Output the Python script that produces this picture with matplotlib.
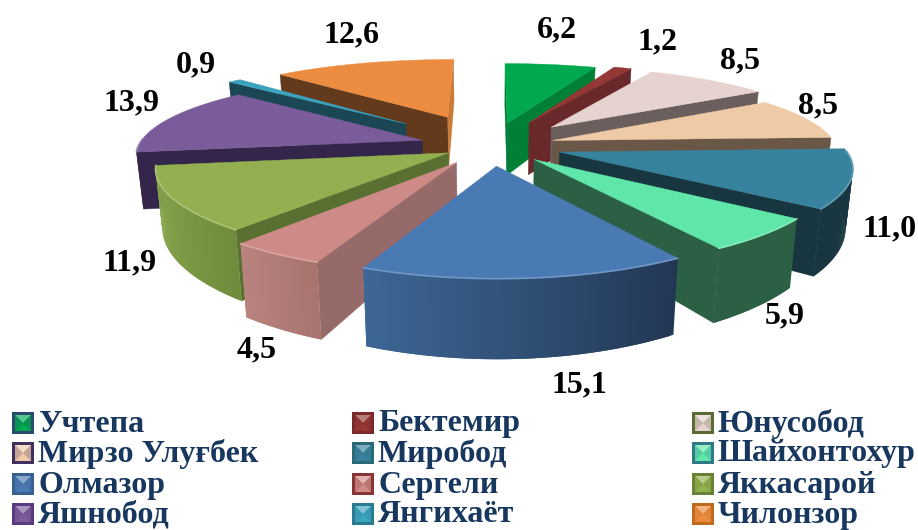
"""Exploded 3D pie of district shares, drawn by hand since matplotlib has no 3D pie."""

import matplotlib

matplotlib.use("Agg")
import matplotlib.pyplot as plt
import numpy as np
from matplotlib.colors import to_rgb

districts = ["Учтепа", "Бектемир", "Юнусобод", "Мирзо Улуғбек", "Миробод", "Шайхонтохур",
             "Олмазор", "Сергели", "Яккасарой", "Яшнобод", "Янгихаёт", "Чилонзор"]
shares = [6.2, 1.2, 8.5, 8.5, 11.0, 5.9, 15.1, 4.5, 11.9, 13.9, 0.9, 12.6]

explode = [0.31, 0.34, 0.33, 0.23, 0.25, 0.22, 0.24, 0.23, 0.17, 0.255, 0.43, 0.42]
top_colors = ["#00a94f", "#953735", "#e6d2cf", "#eecaa7", "#37829c", "#60e6a8",
              "#4a7ab3", "#cd8a87", "#92b050", "#7a5c9a", "#3ca3bf", "#ec8c41"]
cut_colors = ["#008037", "#69282a", "#6b5f5d", "#6a5748", "#17363f", "#2c6045",
              "#223754", "#966a68", "#5a6f32", "#33264a", "#1b4654", "#643a1c"]
wall_start = ["#008037", "#69282a", "#6b5f5d", "#6a5748", "#17363f", "#2c6045",
              "#223754", "#a87470", "#6f8c3c", "#33264a", "#1b4654", "#643a1c"]
wall_end = ["#008037", "#69282a", "#6b5f5d", "#6a5748", "#17363f", "#2c6045",
            "#3d6796", "#b98480", "#8dab50", "#33264a", "#1b4654", "#643a1c"]
key_edges = ["#2a4a6e", "#7a2a2a", "#5a6b35", "#3f3060", "#2a6a78", "#2f7a86",
             "#3a6090", "#8a3535", "#6a8035", "#5a3a80", "#2a7a90", "#c06a20"]

label_pos = [(557, 30), (657, 42), (740, 61), (818, 106), (890, 229), (785, 316),
             (579, 385), (257, 350), (130, 263), (131, 103), (196, 65), (352, 35)]

CX, CY = 491, 146
A, B, H = 284, 80, 56
KX, KY, KH = 0.16, 0.204, 0.246

SERIF = ["Liberation Serif", "DejaVu Serif"]


def project(x, y, z=0.0):
    wx = 1 + KX * y
    wy = 1 + KY * y
    wh = 1 + KH * y
    sx = CX + A * x / (wx + 0.02 * z)
    sy = CY - B * y / wy + H * z / wh
    return np.array([sx, sy]).T


def lighten(color, amount):
    rgb = np.array(to_rgb(color))
    return tuple(rgb + (1 - rgb) * amount)


def mix(c0, c1, t):
    return tuple(np.array(to_rgb(c0)) * (1 - t) + np.array(to_rgb(c1)) * t)


def draw_slice(ax, a0, a1, e, top, cut, w0, w1, zorder):
    mid = np.radians((a0 + a1) / 2)
    ox, oy = e * np.sin(mid), e * np.cos(mid)
    ang = np.radians(np.linspace(a0, a1, 80))
    rx, ry = ox + np.sin(ang), oy + np.cos(ang)

    apex = project(ox, oy)
    apex_low = project(ox, oy, 1.0)
    rim = project(rx, ry)
    rim_low = project(rx, ry, 1.0)

    # cut faces, only the ones turned towards the viewer
    if rim[0, 0] < apex[0]:
        quad = [apex, rim[0], rim_low[0], apex_low]
        ax.fill(*np.array(quad).T, color=cut, lw=0.3, zorder=zorder)
    if rim[-1, 0] > apex[0]:
        quad = [apex, rim[-1], rim_low[-1], apex_low]
        color = cut if a1 < 350 else "#c97a38"
        ax.fill(*np.array(quad).T, color=color, lw=0.3, zorder=zorder)

    # outer wall as overlapping strips so it can carry a gradient without seams
    front = np.where(np.cos(ang) < 0.02)[0]
    for i in front[:-1]:
        j = min(i + 2, front[-1])
        t = i / (len(ang) - 2)
        quad = [rim[i], rim[j], rim_low[j], rim_low[i]]
        ax.fill(*np.array(quad).T, color=mix(w0, w1, t), lw=0, zorder=zorder)

    outline = np.vstack([apex, rim])
    ax.fill(outline[:, 0], outline[:, 1], color=top, lw=0.3, zorder=zorder)
    if len(front):
        ax.plot(rim[front, 0], rim[front, 1], color=lighten(top, 0.22), lw=1.2,
                solid_capstyle="round", zorder=zorder)


def draw_key(ax, x, y, top, edge, size=22):
    # bevelled legend swatch
    x0, x1, y0, y1 = x, x + size, y - size / 2, y + size / 2
    ax.fill([x0, x1, x1, x0], [y0, y0, y1, y1], color=edge, lw=0, zorder=30)
    m = 3
    ix0, ix1, iy0, iy1 = x0 + m, x1 - m, y0 + m, y1 - m
    ax.fill([ix0, ix1, ix1, ix0], [iy0, iy0, iy1, iy1], color=top, lw=0, zorder=31)
    cx, cy = (ix0 + ix1) / 2, (iy0 + iy1) / 2
    ax.fill([ix0, ix1, cx], [iy0, iy0, cy], color=lighten(top, 0.35), lw=0, zorder=32)
    ax.fill([ix0, cx, ix0], [iy0, cy, iy1], color=mix(top, edge, 0.25), lw=0, zorder=32)
    ax.fill([ix1, cx, ix1], [iy0, cy, iy1], color=mix(top, edge, 0.25), lw=0, zorder=32)


def main():
    fig = plt.figure(figsize=(9.18, 5.30), dpi=100)
    ax = fig.add_axes([0, 0, 1, 1])
    ax.set_xlim(0, 918)
    ax.set_ylim(530, 0)
    ax.axis("off")

    edges = np.concatenate([[0], np.cumsum(shares)]) / sum(shares) * 360
    mids = (edges[:-1] + edges[1:]) / 2
    order = np.argsort(-np.cos(np.radians(mids)))
    for z, i in enumerate(order):
        draw_slice(ax, edges[i], edges[i + 1], explode[i], top_colors[i], cut_colors[i],
                   wall_start[i], wall_end[i], 2 + z)

    for value, (x, y) in zip(shares, label_pos):
        ax.text(x, y, f"{value:.1f}".replace(".", ","), ha="center", va="center",
                family=SERIF, fontsize=23, fontweight="bold", color="black", zorder=40)

    key_x = [12, 352, 692]
    key_y = [423, 453, 484, 514]
    for i, name in enumerate(districts):
        row, col = i // 3, i % 3
        draw_key(ax, key_x[col], key_y[row], top_colors[i], key_edges[i])
        ax.text(key_x[col] + 26, key_y[row] + 1, name, ha="left", va="center", family=SERIF,
                fontsize=23, fontweight="bold", color="#17375e", zorder=40)

    fig.savefig("out.png", dpi=100)
    plt.close(fig)


if __name__ == "__main__":
    main()
